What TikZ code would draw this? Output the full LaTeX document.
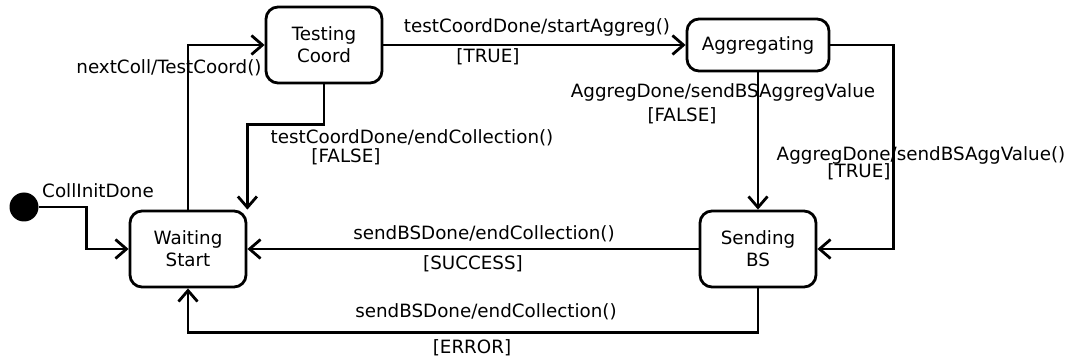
\documentclass[tikz,border=0pt]{standalone}
\usepackage{fontspec}
\setmainfont{DejaVu Sans}
\usetikzlibrary{shapes, arrows, arrows.meta}

\begin{document}
\begin{tikzpicture}[x=1pt, y=-1pt, font=\fontsize{18.3}{22}\selectfont]
        \tikzstyle{state} = [rectangle, rounded corners=12pt, minimum width=116pt, minimum height=76pt, text centered, align=center, draw=black, line width=2.8pt]
        \tikzstyle{trans} = [line width=2.8pt, -{Straight Barb[length=11pt,width=19pt]}]
        \tikzstyle{lbl} = [inner sep=0pt]
        \useasboundingbox (0,0) rectangle (1070,363);

        % states
        \node (init) [circle, fill=black, minimum size=29pt, inner sep=0pt] at (24,207) {};
        \node (wait) [state] at (188,249) {Waiting\\Start};
        \node (test) [state] at (324,45) {Testing\\Coord};
        \node (agg) [state, minimum width=142pt, minimum height=52pt] at (758,45) {Aggregating};
        \node (send) [state] at (758,249) {Sending\\BS};

        % transitions
        \draw[trans] (init.east) -- ++(48,0) |- (wait);
        \draw[trans] (wait.north) |- (test);
        \draw[trans] (test.south) -- ++(0,40) -| (wait.north east);
        \draw[trans] (test) -- (agg);
        \draw[trans] (agg) -- (send);
        \draw[trans] (agg.east) -- ++(63,0) |- (send);
        \draw[trans] (send) -- (wait);
        \draw[trans] (send.south) -- ++(0,44) -| (wait.south);

        % labels
        \node (l1) [lbl] at (98,191) {CollInitDone};
        \node (l2) [lbl] at (169,68) {nextColl/TestCoord()};
        \node (l3) [lbl] at (412,138) {testCoordDone/endCollection()};
        \node (l3b) [lbl] at (346,157) {[FALSE]};
        \node (l4) [lbl] at (537,27) {testCoordDone/startAggreg()};
        \node (l4b) [lbl] at (488,57) {[TRUE]};
        \node (l5) [lbl] at (723,92) {AggregDone/sendBSAggregValue};
        \node (l5b) [lbl] at (682,116) {[FALSE]};
        \node (l6) [lbl] at (921,155) {AggregDone/sendBSAggValue()};
        \node (l6b) [lbl] at (859,172) {[TRUE]};
        \node (l7) [lbl] at (484,234) {sendBSDone/endCollection()};
        \node (l7b) [lbl] at (473,264) {[SUCCESS]};
        \node (l8) [lbl] at (486,312) {sendBSDone/endCollection()};
        \node (l8b) [lbl] at (472,348) {[ERROR]};
\end{tikzpicture}
\end{document}
